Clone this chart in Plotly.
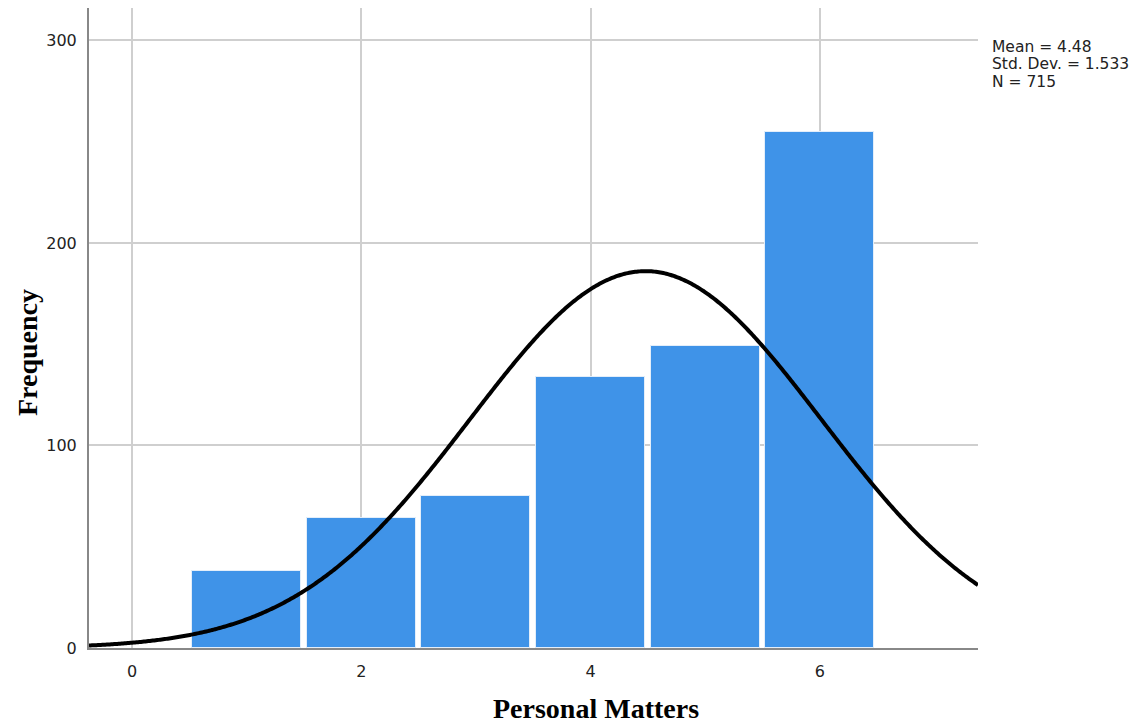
import numpy as np
import plotly.graph_objects as go

categories = [1, 2, 3, 4, 5, 6]
frequencies = [38, 64, 75, 134, 149, 255]
mean_val = 4.48
std_val = 1.533
n_val = 715
x_ticks = [0, 2, 4, 6]
y_ticks = [0, 100, 200, 300]
stats_lines = ["Mean = 4.48", "Std. Dev. = 1.533", "N = 715"]

x_lo, x_hi = -0.375, 7.38
xs = np.linspace(x_lo, x_hi, 600)
ys = n_val * 1.0 / (std_val * np.sqrt(2 * np.pi)) * np.exp(-0.5 * ((xs - mean_val) / std_val) ** 2)

fig = go.Figure()
fig.add_trace(go.Bar(
    x=categories, y=frequencies, width=0.95,
    marker=dict(color="#3f93e8", line=dict(color="#e3eefa", width=1)),
    showlegend=False, hoverinfo="skip"))
fig.add_trace(go.Scatter(
    x=xs, y=ys, mode="lines", line=dict(color="black", width=4, simplify=False),
    showlegend=False, hoverinfo="skip"))

fig.update_layout(
    width=1143, height=725,
    margin=dict(l=89, r=165, t=8, b=77),
    plot_bgcolor="white", paper_bgcolor="white",
    font=dict(family="DejaVu Sans", size=16, color="#222"),
    bargap=0,
)
fig.update_xaxes(
    range=[x_lo, x_hi], tickvals=x_ticks, ticktext=[str(v) for v in x_ticks],
    showgrid=True, gridcolor="#cfcfcf", gridwidth=2,
    showline=True, linecolor="#888", linewidth=2, zeroline=False,
    ticks="", ticklabelstandoff=8, tickfont=dict(size=16, color="#222"))
fig.update_yaxes(
    range=[0, 316], tickvals=y_ticks, ticktext=[str(v) for v in y_ticks],
    showgrid=True, gridcolor="#cfcfcf", gridwidth=2,
    showline=True, linecolor="#888", linewidth=2, zeroline=False,
    ticks="", ticklabelstandoff=7, tickfont=dict(size=16, color="#222"))

for i, line in enumerate(stats_lines):
    fig.add_annotation(
        x=990, y=47 + 17.5 * i, xref="paper", yref="paper", xanchor="left", yanchor="middle",
        text=line, showarrow=False, align="left",
        font=dict(family="DejaVu Sans", size=15.5, color="#222"))
fig.add_annotation(
    x=596, y=708, xref="paper", yref="paper", xanchor="center", yanchor="middle",
    text="<b>Personal Matters</b>", showarrow=False,
    font=dict(family="Liberation Serif", size=28, color="black"))
fig.add_annotation(
    x=27, y=352, xref="paper", yref="paper", xanchor="center", yanchor="middle",
    text="<b>Frequency</b>", showarrow=False, textangle=-90,
    font=dict(family="Liberation Serif", size=28, color="black"))

# convert pixel annotation positions to paper coords
pw = 1143 - 89 - 165
ph = 725 - 8 - 77
for a in fig.layout.annotations:
    a.x = (a.x - 89) / pw
    a.y = (725 - 77 - a.y) / ph

fig.write_html("out.html")
